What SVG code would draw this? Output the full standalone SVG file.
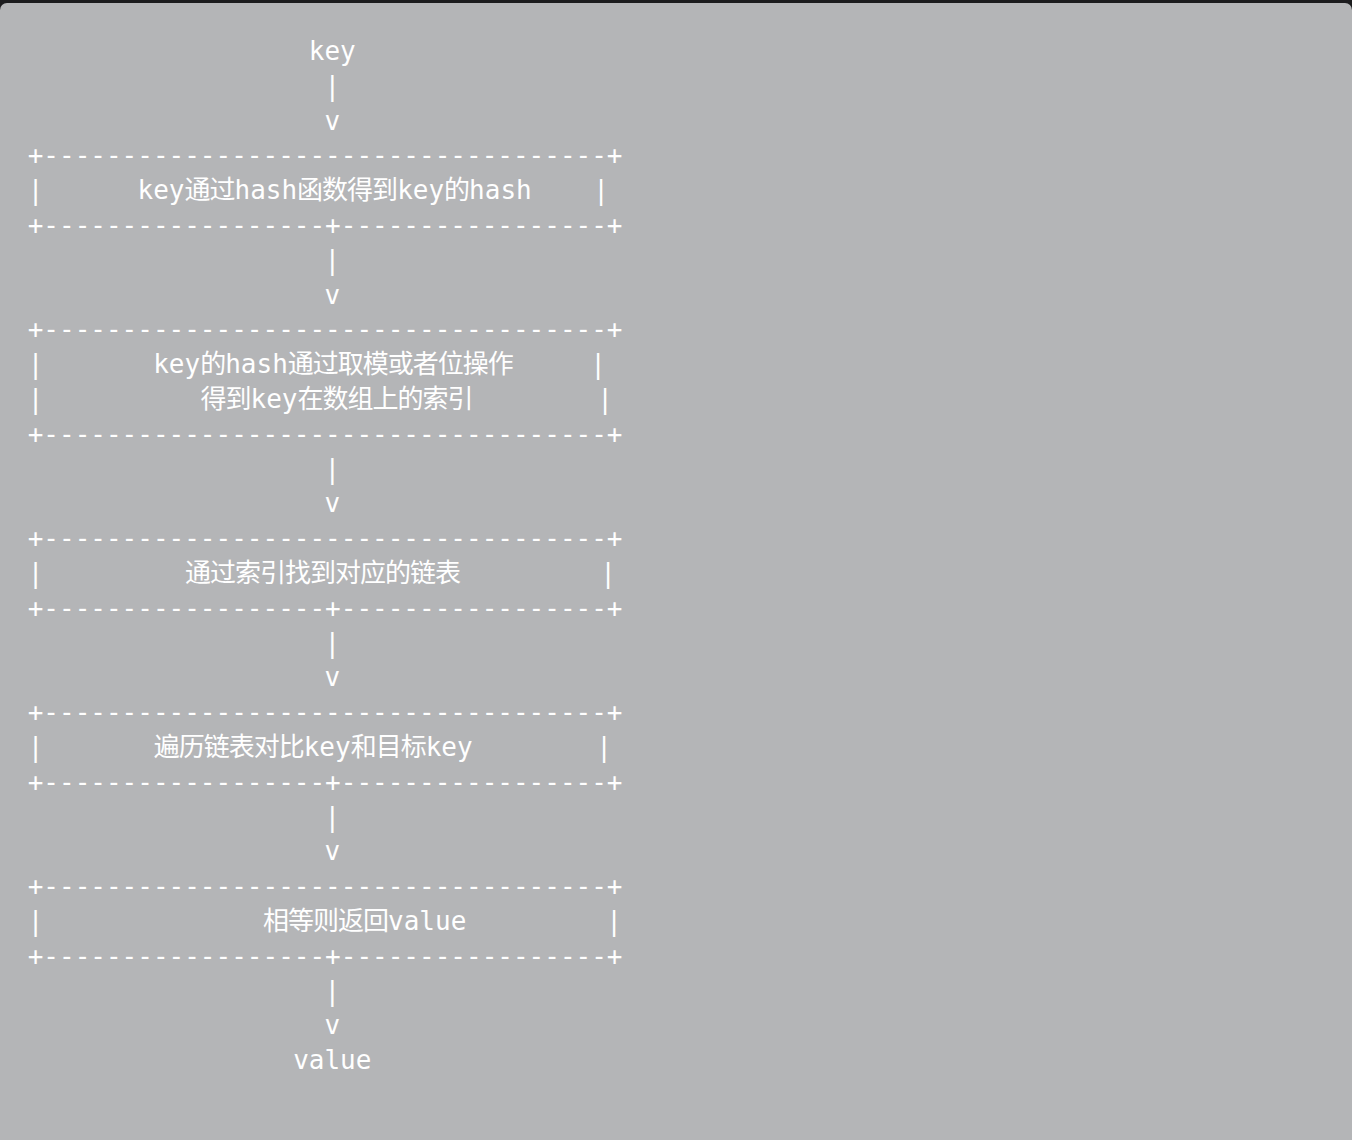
<svg xmlns="http://www.w3.org/2000/svg" width="1352" height="1140" viewBox="0 0 1352 1140">
<style>
text{font-family:"DejaVu Sans Mono","Liberation Mono","Noto Sans CJK SC",monospace;font-size:26px;fill:#ffffff;white-space:pre}
.c{text-anchor:middle}
.z{letter-spacing:-1px}
</style>
<rect x="0" y="0" width="1352" height="1140" fill="#1c1c1e"/>
<rect x="0" y="3" width="1352" height="1150" rx="7" fill="#b4b5b7"/>
<g id="key"><text class="c" x="332.3" y="60">key</text></g>
<g id="connectors">
<text class="c" x="332.3" y="94.8">|</text><text class="c" x="332.3" y="129.6">v</text>
<text class="c" x="332.3" y="268.8">|</text><text class="c" x="332.3" y="303.6">v</text>
<text class="c" x="332.3" y="477.6">|</text><text class="c" x="332.3" y="512.4">v</text>
<text class="c" x="332.3" y="651.6">|</text><text class="c" x="332.3" y="686.4">v</text>
<text class="c" x="332.3" y="825.6">|</text><text class="c" x="332.3" y="860.4">v</text>
<text class="c" x="332.3" y="999.6">|</text><text class="c" x="332.3" y="1034.4">v</text>
</g>
<g id="box1">
<text x="27.7" y="164.4">+------------------------------------+</text>
<text class="c" x="35.5" y="199.2">|</text>
<text x="137.5" y="199.2">key<tspan class="z">通过</tspan>hash<tspan class="z">函数得到</tspan>key<tspan class="z">的</tspan>hash</text>
<text class="c" x="601" y="199.2">|</text>
<text x="27.7" y="234">+------------------+-----------------+</text>
</g>
<g id="box2">
<text x="27.7" y="338.4">+------------------------------------+</text>
<text class="c" x="35.5" y="373.2">|</text>
<text x="153.2" y="373.2">key<tspan class="z">的</tspan>hash<tspan class="z">通过取模或者位操作</tspan></text>
<text class="c" x="598" y="373.2">|</text>
<text class="c" x="35.5" y="408">|</text>
<text x="200.5" y="408"><tspan class="z">得到</tspan>key<tspan class="z">在数组上的索引</tspan></text>
<text class="c" x="605" y="408">|</text>
<text x="27.7" y="442.8">+------------------------------------+</text>
</g>
<g id="box3">
<text x="27.7" y="547.2">+------------------------------------+</text>
<text class="c" x="35.5" y="582">|</text>
<text x="185" y="582"><tspan class="z">通过索引找到对应的链表</tspan></text>
<text class="c" x="608" y="582">|</text>
<text x="27.7" y="616.8">+------------------+-----------------+</text>
</g>
<g id="box4">
<text x="27.7" y="721.2">+------------------------------------+</text>
<text class="c" x="35.5" y="756">|</text>
<text x="153.7" y="756"><tspan class="z">遍历链表对比</tspan>key<tspan class="z">和目标</tspan>key</text>
<text class="c" x="604" y="756">|</text>
<text x="27.7" y="790.8">+------------------+-----------------+</text>
</g>
<g id="box5">
<text x="27.7" y="895.2">+------------------------------------+</text>
<text class="c" x="35.5" y="930">|</text>
<text x="263" y="930"><tspan class="z">相等则返回</tspan>value</text>
<text class="c" x="614" y="930">|</text>
<text x="27.7" y="964.8">+------------------+-----------------+</text>
</g>
<g id="value"><text class="c" x="332.3" y="1069.2">value</text></g>
</svg>
